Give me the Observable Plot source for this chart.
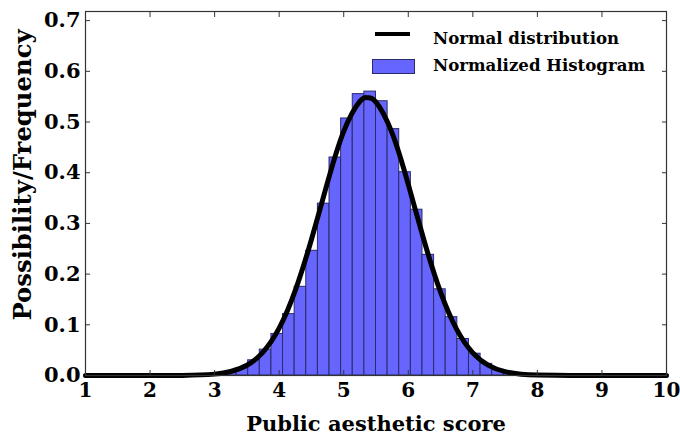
<!DOCTYPE html>
<html>
<head>
<meta charset="utf-8">
<script src="https://cdn.jsdelivr.net/npm/d3@7"></script>
<script src="https://cdn.jsdelivr.net/npm/@observablehq/plot@0.6"></script>
<style>
  html, body { margin: 0; padding: 0; background: #fff; }
  #wrap { position: relative; width: 680px; height: 439px; }
  #wrap svg text { font-family: "DejaVu Serif", serif; font-weight: bold; fill: #000; }
  .lg { position: absolute; font-family: "DejaVu Serif", serif; font-weight: bold; font-size: 16.6px; line-height: 17px; color: #000; white-space: nowrap; }
  .yt { position: absolute; font-family: "DejaVu Serif", serif; font-weight: bold; font-size: 24.3px; line-height: 26px; color: #000; white-space: nowrap;
        transform: translate(-50%, -50%) rotate(-90deg); }
  .sw { position: absolute; }
</style>
</head>
<body>
<div id="wrap"></div>
<script>
// ---- data ----
const xTicks = [1, 2, 3, 4, 5, 6, 7, 8, 9, 10];
const yTicks = [0, 0.1, 0.2, 0.3, 0.4, 0.5, 0.6, 0.7];
const yTickLabels = ["0.0", "0.1", "0.2", "0.3", "0.4", "0.5", "0.6", "0.7"];

const binEdges = [3.16, 3.34, 3.52, 3.70, 3.88, 4.06, 4.24, 4.42, 4.60, 4.78, 4.96, 5.14, 5.32,
                  5.50, 5.68, 5.86, 6.04, 6.22, 6.40, 6.58, 6.76, 6.94, 7.12, 7.30, 7.48, 7.66];
const binFreq = [0.005, 0.014, 0.030, 0.051, 0.082, 0.121, 0.175, 0.246, 0.339, 0.430, 0.507, 0.555, 0.560,
                 0.541, 0.486, 0.401, 0.327, 0.238, 0.170, 0.115, 0.072, 0.043, 0.023, 0.011, 0.005];

const curveX = [1, 2, 2.5, 3, 3.25, 3.5, 3.75, 4, 4.25, 4.5, 4.75, 5, 5.25, 5.37, 5.5, 5.75,
                6, 6.25, 6.5, 6.75, 7, 7.25, 7.5, 7.75, 8, 8.5, 9, 10];
const curveY = [0, 0, 0.0002, 0.0027, 0.0079, 0.0202, 0.0461, 0.0933, 0.1679, 0.2683, 0.3813, 0.4816, 0.5406, 0.548, 0.5393, 0.4782,
                0.3769, 0.2639, 0.1643, 0.0909, 0.0447, 0.0195, 0.0076, 0.0026, 0.0008, 0.0001, 0, 0];

const xLabel = "Public aesthetic score";
const yLabel = "Possibility/Frequency";
const legendLine = "Normal distribution";
const legendHist = "Normalized Histogram";

// ---- tables built from the arrays ----
const bars = binFreq.map((f, i) => ({x1: binEdges[i], x2: binEdges[i + 1], f}));
const curve = curveX.map((x, i) => ({x, y: curveY[i]}));

const fmtY = d => yTickLabels[yTicks.findIndex(t => Math.abs(t - d) < 1e-9)];
const none = () => "";

const chart = Plot.plot({
  width: 680,
  height: 439,
  marginLeft: 85,
  marginRight: 14,
  marginTop: 11,
  marginBottom: 64,
  x: {domain: [1, 10]},
  y: {domain: [0, 0.718]},
  style: {fontFamily: "DejaVu Serif", fontWeight: "bold", background: "#fff"},
  marks: [
    Plot.rect(bars, {x1: "x1", x2: "x2", y1: 0, y2: "f", fill: "#6666ff", stroke: "#2a2a6a", strokeWidth: 1}),
    Plot.line(curve, {x: "x", y: "y", stroke: "#000", strokeWidth: 5, curve: "natural"}),
    Plot.frame({stroke: "#333", strokeWidth: 1.2}),
    // tick labels
    Plot.axisX(xTicks, {anchor: "bottom", tickSize: 0, tickPadding: 7, fontSize: 20, label: null}),
    Plot.axisY(yTicks, {anchor: "left", tickSize: 0, tickPadding: 5, fontSize: 21, tickFormat: fmtY, label: null}),
    // x axis title
    Plot.axisX(xTicks, {anchor: "bottom", tickSize: 0, tickFormat: none, fontSize: 21,
      label: xLabel, labelAnchor: "center", labelOffset: 55, labelArrow: "none"}),
    // inward ticks on all four sides
    Plot.axisX(xTicks, {anchor: "bottom", tickSize: 5, dy: -5, tickFormat: none, label: null, stroke: "#333"}),
    Plot.axisX(xTicks, {anchor: "top", tickSize: 5, dy: 5, tickFormat: none, label: null, stroke: "#333"}),
    Plot.axisY(yTicks, {anchor: "left", tickSize: 5, dx: 5, tickFormat: none, label: null, stroke: "#333"}),
    Plot.axisY(yTicks, {anchor: "right", tickSize: 5, dx: -5, tickFormat: none, label: null, stroke: "#333"})
  ]
});

const wrap = document.getElementById("wrap");
wrap.appendChild(chart);

// HTML overlays: y title and legend (upper right, inside the frame)
function el(cls, css, text) {
  const d = document.createElement("div");
  d.className = cls;
  d.style.cssText = css;
  if (text) d.textContent = text;
  wrap.appendChild(d);
}
el("yt", "left:23px;top:175px;", yLabel);
el("sw", "left:375px;top:32px;width:35px;height:4px;background:#000;");
el("lg", "left:433px;top:30px;", legendLine);
el("sw", "left:372px;top:59px;width:41px;height:13px;background:#6666ff;border:1px solid #2a2a6a;");
el("lg", "left:433px;top:57px;", legendHist);
</script>
</body>
</html>
